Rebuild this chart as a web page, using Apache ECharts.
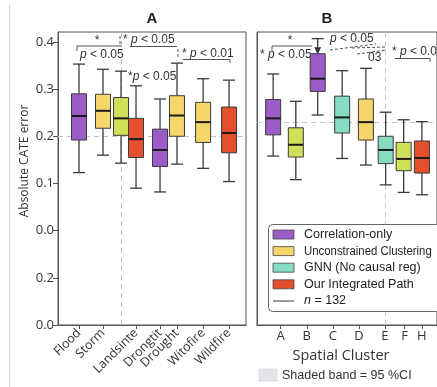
<!DOCTYPE html>
<html>
<head>
<meta charset="utf-8">
<script src="https://cdn.jsdelivr.net/npm/echarts@6/dist/echarts.min.js"></script>
<style>
html,body{margin:0;padding:0;background:#fff;}
#chart{width:437px;height:387px;}
</style>
</head>
<body>
<div id="chart"></div>
<script>
// ---------- DATA ----------
const groupNames = ['Correlation-only', 'Unconstrained Clustering', 'GNN (No causal reg)', 'Our Integrated Path', 'Other (lime)'];

// Panel A: hazard types
const hazardLabels = ['Flood', 'Storm', 'Landsinte', 'Drongtit', 'Drought', 'Witofire', 'Wildfire'];
const hazardLabelPos = [1.0, 2.12, 3.66, 4.78, 5.57, 6.79, 8.0];
const boxPosA   = [1.0, 2.12, 2.96, 3.66, 4.78, 5.57, 6.79, 8.0];
const boxGroupA = [0, 1, 4, 3, 0, 1, 1, 3];
const lowA  = [0.123, 0.160, 0.143, 0.090, 0.082, 0.141, 0.132, 0.104];
const q1A   = [0.192, 0.217, 0.202, 0.155, 0.136, 0.200, 0.187, 0.165];
const medA  = [0.243, 0.254, 0.238, 0.194, 0.171, 0.244, 0.230, 0.207];
const q3A   = [0.290, 0.289, 0.282, 0.238, 0.215, 0.286, 0.272, 0.262];
const highA = [0.353, 0.342, 0.338, 0.307, 0.279, 0.355, 0.322, 0.319];

// Panel B: spatial clusters
const clusterLabels = ['A', 'B', 'C', 'D', 'E', 'F', 'H'];
const clusterLabelPos = [1, 2, 3, 4, 5, 5.76, 6.42];
const boxPosB   = [0.71, 1.58, 2.42, 3.36, 4.27, 5.03, 5.72, 6.42];
const boxGroupB = [0, 4, 0, 2, 1, 2, 4, 3];
const lowB  = [0.158, 0.108, 0.245, 0.153, 0.139, 0.097, 0.081, 0.076];
const q1B   = [0.203, 0.156, 0.295, 0.207, 0.192, 0.142, 0.127, 0.122];
const medB  = [0.238, 0.182, 0.322, 0.240, 0.230, 0.171, 0.152, 0.154];
const q3B   = [0.278, 0.218, 0.375, 0.285, 0.279, 0.200, 0.187, 0.190];
const highB = [0.332, 0.274, 0.407, 0.339, 0.344, 0.251, 0.235, 0.231];

// y axis ticks (broken axis labels as printed)
const yTickValues = [-0.2, -0.1, 0.0, 0.1, 0.2, 0.3, 0.4];
const yTickLabels = ['0.0', '0.2', '0.0', '0.1', '0.2', '0.3', '0.4'];

// reference lines
const refLineA_y = 0.2;
const refLineA_x = 2.96;
const refLineB_y = 0.226;
const refLineB_x = 5.0;
const sampleN = 132;

// ---------- STYLE ----------
const palette = ['#9b5cc8', '#f6d66a', '#86dcc3', '#e4502e', '#d1e05b'];
const AX = '#555';
const FONT = 'Open Sans';

function buildData(pos, grp, lo, q1, md, q3, hi) {
  return pos.map((p, i) => [p, lo[i], q1[i], md[i], q3[i], hi[i], grp[i]]);
}

function renderBox(params, api) {
  const x = api.value(0);
  const lo = api.coord([x, api.value(1)]);
  const q1 = api.coord([x, api.value(2)]);
  const md = api.coord([x, api.value(3)]);
  const q3 = api.coord([x, api.value(4)]);
  const hi = api.coord([x, api.value(5)]);
  const color = palette[api.value(6)];
  const half = 7.5, cap = 6;
  const ws = {stroke: '#3a3a3a', lineWidth: 1.3};
  return {
    type: 'group',
    children: [
      {type: 'line', shape: {x1: lo[0], y1: lo[1], x2: q1[0], y2: q1[1]}, style: ws},
      {type: 'line', shape: {x1: q3[0], y1: q3[1], x2: hi[0], y2: hi[1]}, style: ws},
      {type: 'line', shape: {x1: lo[0] - cap, y1: lo[1], x2: lo[0] + cap, y2: lo[1]}, style: ws},
      {type: 'line', shape: {x1: hi[0] - cap, y1: hi[1], x2: hi[0] + cap, y2: hi[1]}, style: ws},
      {type: 'rect', shape: {x: q3[0] - half, y: q3[1], width: 2 * half, height: q1[1] - q3[1]},
        style: {fill: color, stroke: '#3a3a3a', lineWidth: 1}},
      {type: 'line', shape: {x1: md[0] - half, y1: md[1], x2: md[0] + half, y2: md[1]},
        style: {stroke: '#1a1a1a', lineWidth: 2}}
    ]
  };
}

function labelFromPos(posArr, names) {
  return function (v) {
    for (let i = 0; i < posArr.length; i++) if (Math.abs(posArr[i] - v) < 1e-6) return names[i];
    return '';
  };
}
function yLabel(v) {
  for (let i = 0; i < yTickValues.length; i++) if (Math.abs(yTickValues[i] - v) < 1e-6) return yTickLabels[i];
  return '';
}

const chart = echarts.init(document.getElementById('chart'), null, {renderer: 'canvas'});

const pText = (x, y, str, extra) => Object.assign({
  type: 'text', x: x, y: y,
  style: {
    text: str, fill: '#333', font: '12px "Liberation Sans", Arial, sans-serif',
    textVerticalAlign: 'middle',
    rich: {i: {fontStyle: 'italic', fontSize: 12, fontFamily: 'Liberation Sans', fill: '#333'}}
  }
}, extra || {});

const line = (pts, dashed) => ({
  type: 'polyline', shape: {points: pts},
  style: {stroke: '#555', lineWidth: 1, fill: null, lineDash: dashed ? [3, 2] : null}
});

const legendItems = groupNames.slice(0, 4);
const legendScale = [1, 0.91, 1, 1];
const legendGraphics = [
  {type: 'rect', shape: {x: 268.5, y: 224.5, width: 172, height: 87, r: 4},
    style: {fill: '#fff', stroke: '#666', lineWidth: 1}, z: 50}
];
legendItems.forEach((name, i) => {
  const cy = 234.5 + i * 16.6;
  legendGraphics.push({type: 'rect', shape: {x: 273, y: cy - 4.5, width: 21, height: 9},
    style: {fill: palette[i], stroke: '#444', lineWidth: 0.8}, z: 51});
  legendGraphics.push({type: 'text', x: 304, y: cy, scaleX: legendScale[i],
    style: {text: name, fill: '#222', font: '12.5px "Liberation Sans", Arial, sans-serif', textVerticalAlign: 'middle'}, z: 51});
});
legendGraphics.push({type: 'line', shape: {x1: 273, y1: 301, x2: 294, y2: 301},
  style: {stroke: '#555', lineWidth: 1.2}, z: 51});
legendGraphics.push({type: 'text', x: 304, y: 301,
  style: {text: '{i|n} = ' + sampleN, fill: '#222', font: '12.5px "Liberation Sans", Arial, sans-serif', textVerticalAlign: 'middle',
    rich: {i: {fontStyle: 'italic', fontSize: 12.5, fontFamily: 'Liberation Sans', fill: '#222'}}}, z: 51});

const option = {
  backgroundColor: '#fff',
  animation: false,
  grid: [
    {left: 58, top: 32, width: 188, height: 293, show: true, borderColor: AX, borderWidth: 1, backgroundColor: 'transparent'},
    {left: 257, top: 32, width: 190, height: 293, show: true, borderColor: AX, borderWidth: 1, backgroundColor: 'transparent'}
  ],
  xAxis: [
    {gridIndex: 0, type: 'value', min: 0.02, max: 8.79,
      axisLine: {show: true, onZero: false, lineStyle: {color: AX}},
      axisTick: {show: true, length: 4, lineStyle: {color: AX}, customValues: hazardLabelPos},
      splitLine: {show: false},
      axisLabel: {customValues: hazardLabelPos, formatter: labelFromPos(hazardLabelPos, hazardLabels),
        rotate: 45, margin: 6, color: '#333', fontSize: 12.5, fontFamily: FONT}},
    {gridIndex: 1, type: 'value', min: 0.09, max: 7.0,
      name: 'Spatial Cluster', nameLocation: 'middle', nameGap: 23,
      nameTextStyle: {fontSize: 14.5, color: '#333', fontFamily: FONT, padding: [0, 0, 0, -12]},
      axisLine: {show: true, onZero: false, lineStyle: {color: AX}},
      axisTick: {show: true, length: 4, lineStyle: {color: AX}, customValues: clusterLabelPos},
      splitLine: {show: false},
      axisLabel: {customValues: clusterLabelPos, formatter: labelFromPos(clusterLabelPos, clusterLabels),
        margin: 5, color: '#333', fontSize: 13, fontFamily: FONT}}
  ],
  yAxis: [
    {gridIndex: 0, type: 'value', min: -0.2, max: 0.421, interval: 0.1,
      axisLine: {show: true, onZero: false, lineStyle: {color: AX}},
      axisTick: {show: true, length: 5, lineStyle: {color: AX}, customValues: yTickValues},
      splitLine: {show: false},
      axisLabel: {customValues: yTickValues, formatter: yLabel, margin: 4, color: '#333', fontSize: 13, fontFamily: FONT}},
    {gridIndex: 1, type: 'value', min: -0.2, max: 0.421, interval: 0.1,
      axisLine: {show: true, onZero: false, lineStyle: {color: AX}},
      axisTick: {show: false}, splitLine: {show: false}, axisLabel: {show: false}}
  ],
  series: [
    {type: 'custom', name: 'Panel A', xAxisIndex: 0, yAxisIndex: 0,
      renderItem: renderBox, z: 5,
      data: buildData(boxPosA, boxGroupA, lowA, q1A, medA, q3A, highA),
      markLine: {silent: true, symbol: 'none', label: {show: false}, z: 1,
        data: [
          {yAxis: refLineA_y, lineStyle: {color: '#b9c3d6', type: [5, 4], width: 1}},
          {xAxis: refLineA_x, lineStyle: {color: '#bbbbbb', type: [5, 4], width: 1}}
        ]}},
    {type: 'custom', name: 'Panel B', xAxisIndex: 1, yAxisIndex: 1,
      renderItem: renderBox, z: 5,
      data: buildData(boxPosB, boxGroupB, lowB, q1B, medB, q3B, highB),
      markLine: {silent: true, symbol: 'none', label: {show: false}, z: 1,
        data: [
          {yAxis: refLineB_y, lineStyle: {color: '#c4c4c4', type: [5, 4], width: 1}},
          {xAxis: refLineB_x, lineStyle: {color: '#cccccc', type: [5, 4], width: 1}}
        ]},
      markPoint: {silent: true, label: {show: false},
        data: [{coord: [boxPosB[2], 0.381], symbol: 'triangle', symbolSize: [7, 7], symbolRotate: 180,
          itemStyle: {color: '#333'}}]}}
  ],
  graphic: [
    {type: 'line', shape: {x1: 9.5, y1: 5, x2: 9.5, y2: 387}, style: {stroke: '#cfd9d9', lineWidth: 1}},
    {type: 'text', x: 152, y: 19, style: {text: 'A', font: 'bold 15px "Liberation Sans", Arial, sans-serif', fill: '#222', textAlign: 'center', textVerticalAlign: 'middle'}},
    {type: 'text', x: 327, y: 19, style: {text: 'B', font: 'bold 15px "Liberation Sans", Arial, sans-serif', fill: '#222', textAlign: 'center', textVerticalAlign: 'middle'}},
    {type: 'text', x: 25, y: 161, rotation: Math.PI / 2,
      style: {text: 'Absolute CATE error', font: '12px "Open Sans", sans-serif', fill: '#333', textAlign: 'center', textVerticalAlign: 'middle'}},
    // Panel A annotations
    line([[77, 51], [77, 46], [122, 46]]),
    pText(97, 41, '*', {style: {text: '*', fill: '#333', font: '12px "Liberation Sans", Arial', textAlign: 'center', textVerticalAlign: 'middle'}}),
    pText(80, 55, '{i|p} < 0.05'),
    pText(123, 40, '* {i|p} < 0.05'),
    line([[130, 46.5], [177, 46.5]]),
    line([[178, 49], [178, 58]], true),
    line([[120, 36], [120, 44]], true),
    pText(182, 54, '* {i|p} < 0.01'),
    line([[183, 59.5], [230, 59.5], [230, 63]]),
    pText(128, 77, '*{i|p} < 0.05'),
    // Panel B annotations
    line([[272, 51], [272, 46], [312, 46]]),
    pText(290, 41, '*', {style: {text: '*', fill: '#333', font: '12px "Liberation Sans", Arial', textAlign: 'center', textVerticalAlign: 'middle'}}),
    pText(260, 55, '* {i|p} < 0.05'),
    pText(330, 39, '{i|p} < 0.05'),
    line([[330, 50], [376, 44]], true),
    line([[352, 48], [385, 47]], true),
    line([[357, 54], [386, 50]], true),
    pText(368, 58, '03'),
    pText(392, 52, '* {i|p} < 0.05'),
    line([[395, 58.5], [430, 58.5], [430, 62]]),
    // Shaded band note
    {type: 'rect', shape: {x: 259, y: 369, width: 18, height: 12}, style: {fill: '#e3e4ea', stroke: '#d4d5dc', lineWidth: 0.8}},
    {type: 'text', x: 282, y: 375.5, style: {text: 'Shaded band = 95 %CI', font: '12.5px "Liberation Sans", Arial, sans-serif', fill: '#333', textVerticalAlign: 'middle'}}
  ].concat(legendGraphics)
};

chart.setOption(option);
</script>
</body>
</html>
